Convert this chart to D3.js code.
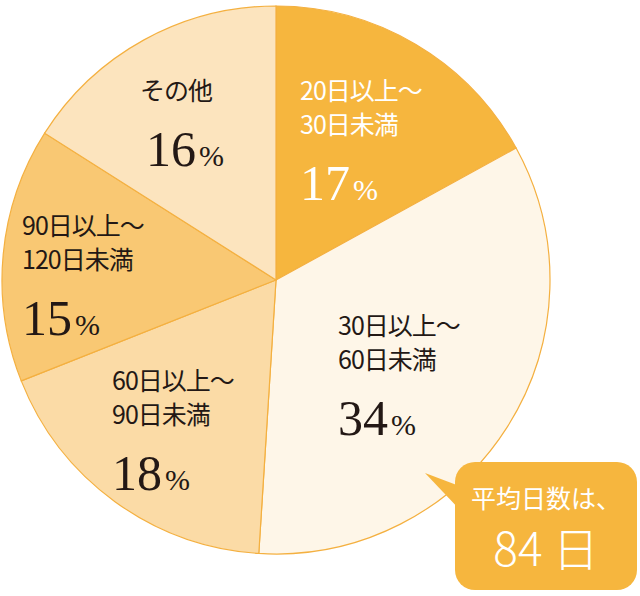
<!DOCTYPE html><html><head><meta charset="utf-8"><script src="https://cdn.jsdelivr.net/npm/d3@7"></script>
<style>body{margin:0;background:#fff}</style></head><body><svg id="c" width="640" height="596"></svg>
<script>
const categories=[["20日以上～","30日未満"],["30日以上～","60日未満"],["60日以上～","90日未満"],["90日以上～","120日未満"],["その他"]];
const values=[17,34,18,15,16];
const colors=["#F6B63E","#FEF6E8","#FBDBA6","#F9C873","#FCE4BE"];
const textColors=["#fff","#231815","#231815","#231815","#231815"];
const labelPos=[[300,100],[338,335],[112,390],[22,235],[140,100]];
const svg=d3.select("#c");
const cx=276,cy=280,r=274;
const pie=d3.pie().sort(null).value(d=>d)(values);
const arc=d3.arc().innerRadius(0).outerRadius(r);
const g=svg.append("g").attr("transform",`translate(${cx},${cy})`);
g.selectAll("path").data(pie).join("path").attr("d",arc).attr("fill",(d,i)=>colors[i]).attr("stroke","#F4B040").attr("stroke-width",1.2);
categories.forEach((lines,i)=>{
  const [x,y]=labelPos[i];
  const t=svg.append("g").attr("fill",textColors[i]);
  lines.forEach((l,j)=>t.append("text").attr("x",x).attr("y",y+j*34).attr("font-family","Noto Sans CJK JP").attr("font-size",25).attr("letter-spacing",-1).text(l));
  const ty=y+(lines.length-1)*34+66;
  const tx=t.append("text").attr("x",x+(lines.length===1?6:0)).attr("y",ty).attr("font-family","Liberation Serif");
  tx.append("tspan").attr("font-size",50).text(values[i]);
  tx.append("tspan").attr("font-size",30).attr("dx",3).text("%");
});
// bubble
svg.append("path").attr("d","M425,473 L462,487 L462,512 Z").attr("fill","#F6B63E");
svg.append("rect").attr("x",455).attr("y",462).attr("width",182).attr("height",128).attr("rx",20).attr("fill","#F6B63E");
svg.append("text").attr("x",546).attr("y",508).attr("text-anchor","middle").attr("fill","#fff").attr("font-family","Noto Sans CJK JP").attr("font-size",25).text("平均日数は、");
svg.append("text").attr("x",546).attr("y",566).attr("text-anchor","middle").attr("fill","#fff").attr("font-family","Noto Sans CJK JP").attr("font-weight",300).attr("font-size",46).text("84 日");
</script></body></html>
